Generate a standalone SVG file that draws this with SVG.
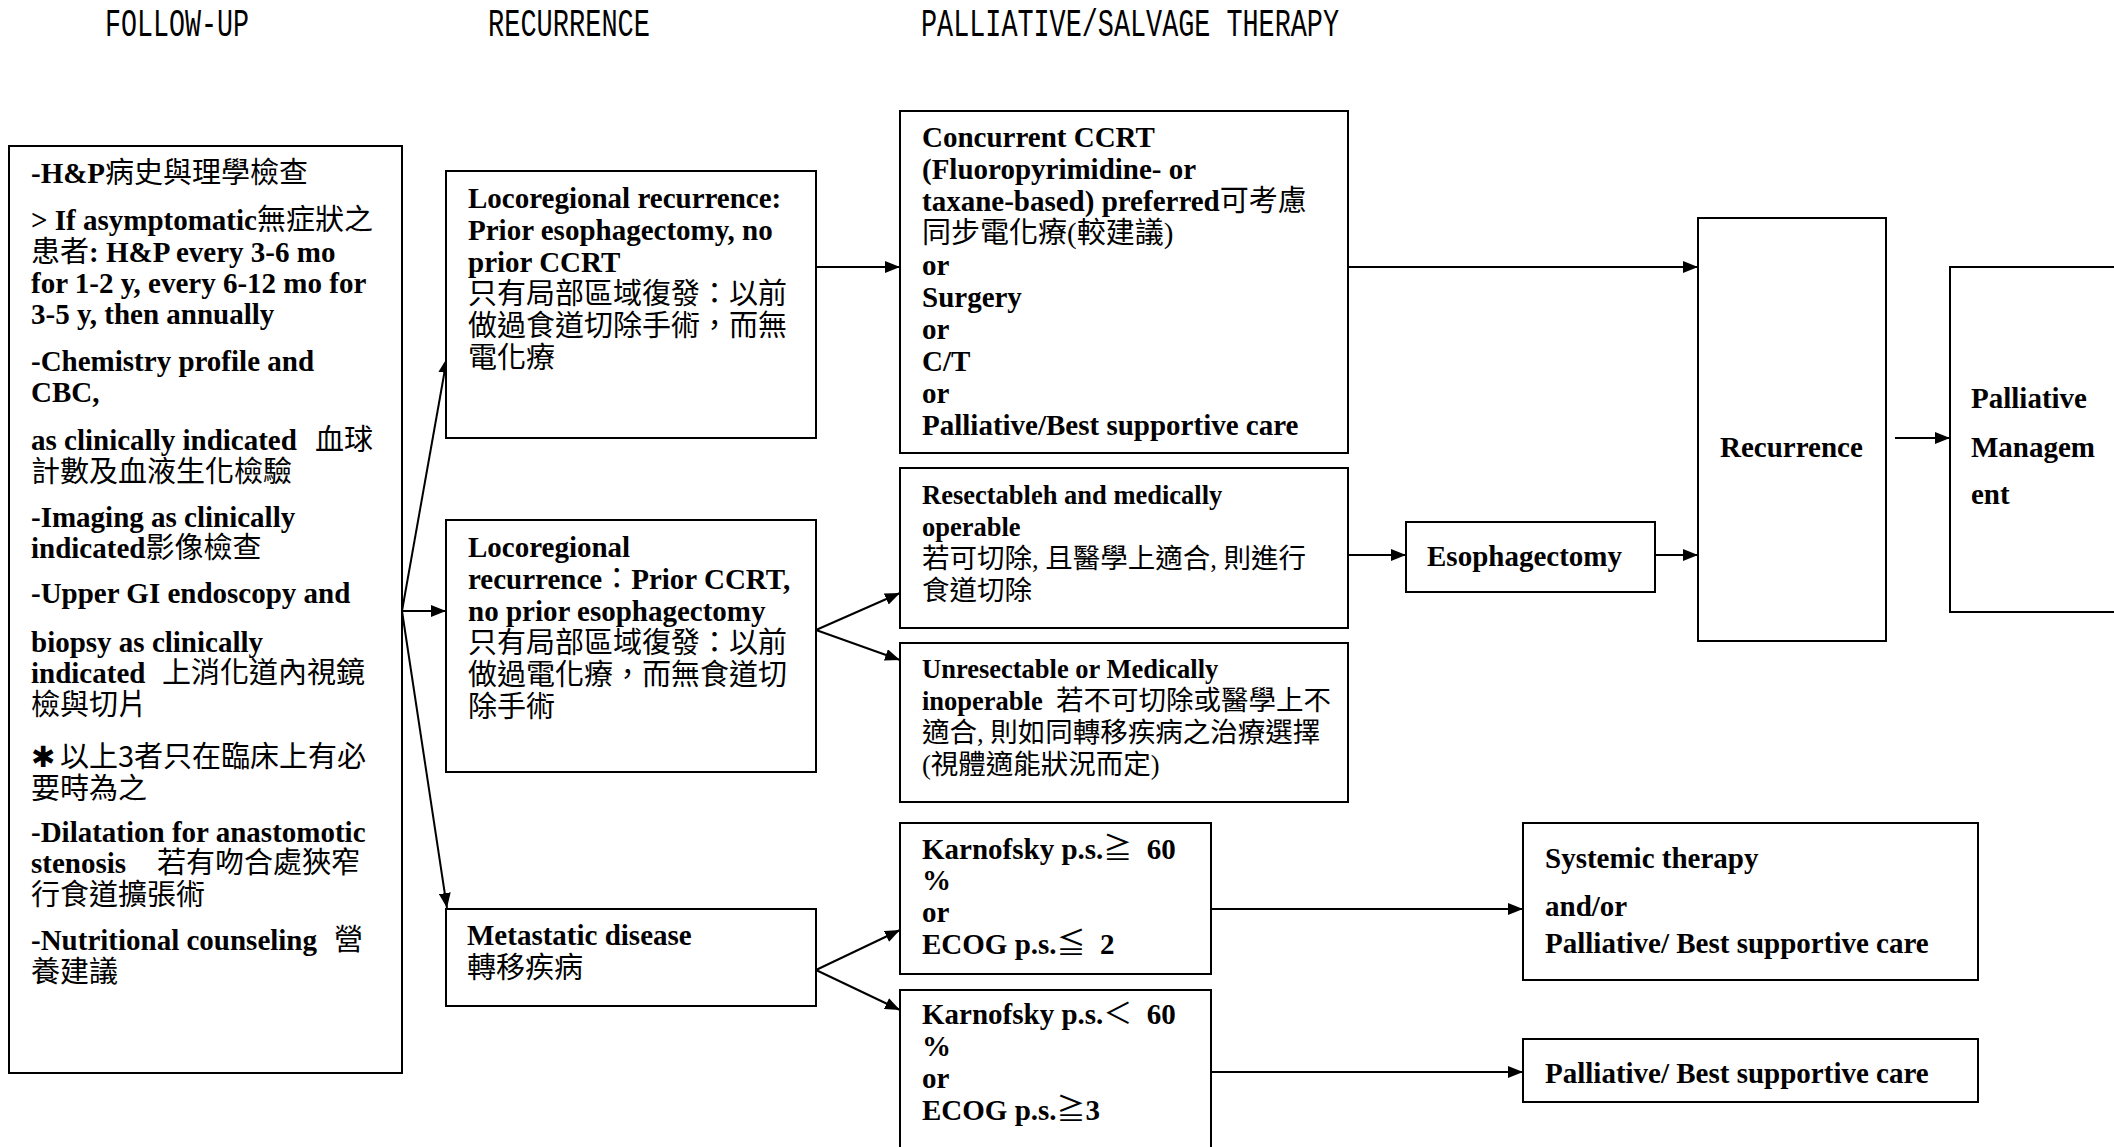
<svg xmlns="http://www.w3.org/2000/svg" width="2114" height="1147" viewBox="0 0 2114 1147">
<defs>
<marker id="ah" markerUnits="userSpaceOnUse" markerWidth="16" markerHeight="12" refX="15" refY="6" orient="auto">
<path d="M0,0 L15,6 L0,12 z" fill="#000"/>
</marker>
<style>
.box{fill:#fff;stroke:#000;stroke-width:2}
.t{font-family:"Liberation Serif","Noto Sans CJK TC",serif;font-size:29px;font-weight:bold;fill:#000;white-space:pre}
.c{font-family:"Noto Sans CJK TC","DejaVu Sans",sans-serif;font-weight:normal}
.s{font-size:26.5px}
.cs{font-size:27.5px}
.hd{font-family:"Liberation Mono",monospace;font-size:38px;fill:#000}
.ln{stroke:#000;stroke-width:2;fill:none;marker-end:url(#ah)}
</style>
</defs>
<rect width="2114" height="1147" fill="#fff"/>
<g id="headers">
<text class="hd" x="105" y="36" textLength="144" lengthAdjust="spacingAndGlyphs">FOLLOW-UP</text>
<text class="hd" x="488" y="36" textLength="162" lengthAdjust="spacingAndGlyphs">RECURRENCE</text>
<text class="hd" x="921" y="36" textLength="418" lengthAdjust="spacingAndGlyphs">PALLIATIVE/SALVAGE THERAPY</text>
</g>
<g id="connectors">
<path class="ln" d="M402,611 L447,358"/>
<path class="ln" d="M402,611 L446,611"/>
<path class="ln" d="M402,611 L447,908"/>
<path class="ln" d="M816,267 L900,267"/>
<path class="ln" d="M1348,267 L1698,267"/>
<path class="ln" d="M816,630 L900,593"/>
<path class="ln" d="M816,630 L900,660"/>
<path class="ln" d="M1348,555 L1406,555"/>
<path class="ln" d="M1655,555 L1698,555"/>
<path class="ln" d="M1895,438 L1950,438"/>
<path class="ln" d="M816,970 L900,930"/>
<path class="ln" d="M816,970 L900,1010"/>
<path class="ln" d="M1211,909 L1523,909"/>
<path class="ln" d="M1211,1072 L1523,1072"/>
</g>
<g id="followup">
<rect class="box" x="9" y="146" width="393" height="927"/>
<text class="t" x="31" y="183">-H&amp;P<tspan class="c">病史與理學檢查</tspan></text>
<text class="t" x="31" y="230">&gt; If asymptomatic<tspan class="c">無症狀之</tspan></text>
<text class="t" x="31" y="262"><tspan class="c">患者</tspan>: H&amp;P every 3-6 mo</text>
<text class="t" x="31" y="293">for 1-2 y, every 6-12 mo for</text>
<text class="t" x="31" y="324">3-5 y, then annually</text>
<text class="t" x="31" y="371">-Chemistry profile and</text>
<text class="t" x="31" y="402">CBC,</text>
<text class="t" x="31" y="450">as clinically indicated<tspan class="c" x="315">血球</tspan></text>
<text class="t" x="31" y="482"><tspan class="c">計數及血液生化檢驗</tspan></text>
<text class="t" x="31" y="527">-Imaging as clinically</text>
<text class="t" x="31" y="558">indicated<tspan class="c">影像檢查</tspan></text>
<text class="t" x="31" y="603">-Upper GI endoscopy and</text>
<text class="t" x="31" y="652">biopsy as clinically</text>
<text class="t" x="31" y="683">indicated<tspan class="c" x="162">上消化道內視鏡</tspan></text>
<text class="t" x="31" y="715"><tspan class="c">檢與切片</tspan></text>
<text class="t" x="31" y="767"><tspan class="c">✱</tspan><tspan class="c" x="60">以上3者只在臨床上有必</tspan></text>
<text class="t" x="31" y="799"><tspan class="c">要時為之</tspan></text>
<text class="t" x="31" y="842">-Dilatation for anastomotic</text>
<text class="t" x="31" y="873">stenosis<tspan class="c" x="157">若有吻合處狹窄</tspan></text>
<text class="t" x="31" y="905"><tspan class="c">行食道擴張術</tspan></text>
<text class="t" x="31" y="950">-Nutritional counseling<tspan class="c" x="334">營</tspan></text>
<text class="t" x="31" y="982"><tspan class="c">養建議</tspan></text>
</g>
<g id="loco1">
<rect class="box" x="446" y="171" width="370" height="267"/>
<text class="t" x="468" y="208">Locoregional recurrence:</text>
<text class="t" x="468" y="240">Prior esophagectomy, no</text>
<text class="t" x="468" y="272">prior CCRT</text>
<text class="t" x="468" y="304"><tspan class="c">只有局部區域復發：以前</tspan></text>
<text class="t" x="468" y="336"><tspan class="c">做過食道切除手術，而無</tspan></text>
<text class="t" x="468" y="368"><tspan class="c">電化療</tspan></text>
</g>
<g id="loco2">
<rect class="box" x="446" y="520" width="370" height="252"/>
<text class="t" x="468" y="557">Locoregional</text>
<text class="t" x="468" y="589">recurrence<tspan class="c">：</tspan>Prior CCRT,</text>
<text class="t" x="468" y="621">no prior esophagectomy</text>
<text class="t" x="468" y="653"><tspan class="c">只有局部區域復發：以前</tspan></text>
<text class="t" x="468" y="685"><tspan class="c">做過電化療，而無食道切</tspan></text>
<text class="t" x="468" y="717"><tspan class="c">除手術</tspan></text>
</g>
<g id="metastatic">
<rect class="box" x="446" y="909" width="370" height="97"/>
<text class="t" x="467" y="945">Metastatic disease</text>
<text class="t" x="467" y="978"><tspan class="c">轉移疾病</tspan></text>
</g>
<g id="ccrt">
<rect class="box" x="900" y="111" width="448" height="342"/>
<text class="t" x="922" y="147">Concurrent CCRT</text>
<text class="t" x="922" y="179">(Fluoropyrimidine- or</text>
<text class="t" x="922" y="211">taxane-based) preferred<tspan class="c">可考慮</tspan></text>
<text class="t" x="922" y="243"><tspan class="c">同步電化療</tspan><tspan font-weight="normal">(</tspan><tspan class="c">較建議</tspan><tspan font-weight="normal">)</tspan></text>
<text class="t" x="922" y="275">or</text>
<text class="t" x="922" y="307">Surgery</text>
<text class="t" x="922" y="339">or</text>
<text class="t" x="922" y="371">C/T</text>
<text class="t" x="922" y="403">or</text>
<text class="t" x="922" y="435">Palliative/Best supportive care</text>
</g>
<g id="resectable">
<rect class="box" x="900" y="468" width="448" height="160"/>
<text class="t s" x="922" y="504">Resectableh and medically</text>
<text class="t s" x="922" y="536">operable</text>
<text class="t s" x="922" y="568"><tspan class="c cs">若可切除</tspan><tspan font-weight="normal">, </tspan><tspan class="c cs">且醫學上適合</tspan><tspan font-weight="normal">, </tspan><tspan class="c cs">則進行</tspan></text>
<text class="t s" x="922" y="600"><tspan class="c cs">食道切除</tspan></text>
</g>
<g id="unresectable">
<rect class="box" x="900" y="643" width="448" height="159"/>
<text class="t s" x="922" y="678">Unresectable or Medically</text>
<text class="t s" x="922" y="710">inoperable  <tspan class="c cs">若不可切除或醫學上不</tspan></text>
<text class="t s" x="922" y="742"><tspan class="c cs">適合</tspan><tspan font-weight="normal">, </tspan><tspan class="c cs">則如同轉移疾病之治療選擇</tspan></text>
<text class="t s" x="922" y="774"><tspan font-weight="normal">(</tspan><tspan class="c cs">視體適能狀況而定</tspan><tspan font-weight="normal">)</tspan></text>
</g>
<g id="kps-high">
<rect class="box" x="900" y="823" width="311" height="151"/>
<text class="t" x="922" y="859">Karnofsky p.s.<tspan class="c">≧</tspan>  60</text>
<text class="t" x="922" y="890">%</text>
<text class="t" x="922" y="922">or</text>
<text class="t" x="922" y="954">ECOG p.s.<tspan class="c">≦</tspan>  2</text>
</g>
<g id="kps-low">
<rect class="box" x="900" y="990" width="311" height="170"/>
<text class="t" x="922" y="1024">Karnofsky p.s.<tspan class="c">＜</tspan>  60</text>
<text class="t" x="922" y="1056">%</text>
<text class="t" x="922" y="1088">or</text>
<text class="t" x="922" y="1120">ECOG p.s.<tspan class="c">≧</tspan>3</text>
</g>
<g id="esophagectomy">
<rect class="box" x="1406" y="522" width="249" height="70"/>
<text class="t" x="1427" y="566">Esophagectomy</text>
</g>
<g id="recurrence">
<rect class="box" x="1698" y="218" width="188" height="423"/>
<text class="t" x="1720" y="457">Recurrence</text>
</g>
<g id="palliative-management">
<rect class="box" x="1950" y="267" width="200" height="345"/>
<text class="t" x="1971" y="408">Palliative</text>
<text class="t" x="1971" y="457">Managem</text>
<text class="t" x="1971" y="504">ent</text>
</g>
<g id="systemic">
<rect class="box" x="1523" y="823" width="455" height="157"/>
<text class="t" x="1545" y="868">Systemic therapy</text>
<text class="t" x="1545" y="916">and/or</text>
<text class="t" x="1545" y="953">Palliative/ Best supportive care</text>
</g>
<g id="bsc">
<rect class="box" x="1523" y="1039" width="455" height="63"/>
<text class="t" x="1545" y="1083">Palliative/ Best supportive care</text>
</g>
</svg>
